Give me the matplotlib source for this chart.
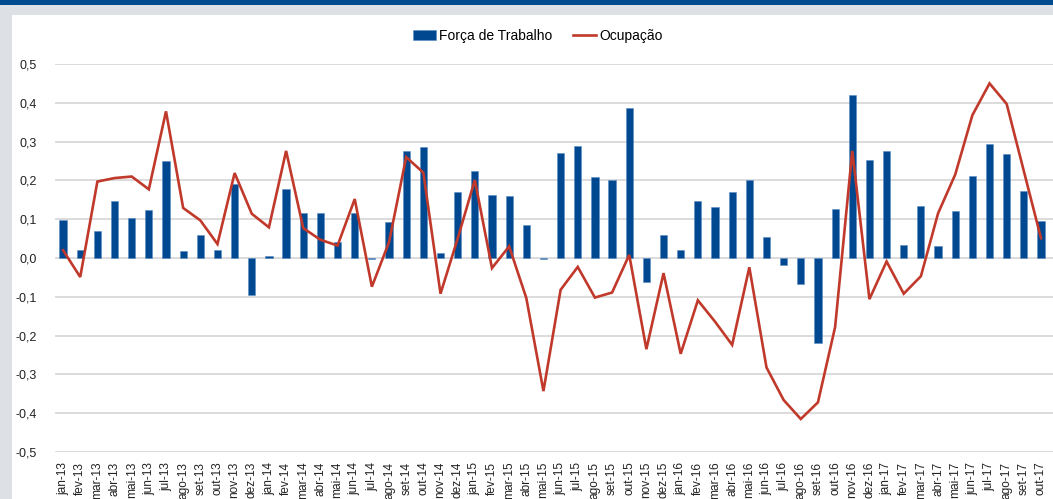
import matplotlib
matplotlib.use("Agg")
import matplotlib.pyplot as plt
from matplotlib.patches import Rectangle
import numpy as np

plt.rcParams['font.family'] = ['Liberation Sans', 'DejaVu Sans']

months = ["jan", "fev", "mar", "abr", "mai", "jun", "jul", "ago", "set", "out", "nov", "dez"]
labels = [f"{m}-{y}" for y in ["13", "14", "15", "16"] for m in months] + \
         [f"{m}-17" for m in months[:10]]

forca_trabalho = [
    0.097, 0.021, 0.069, 0.147, 0.102, 0.125, 0.250, 0.017, 0.060, 0.020, 0.191, -0.096,
    0.006, 0.179, 0.117, 0.117, 0.042, 0.115, -0.002, 0.092, 0.276, 0.285, 0.014, 0.169,
    0.225, 0.162, 0.161, 0.084, -0.002, 0.270, 0.288, 0.209, 0.200, 0.386, -0.062, 0.060,
    0.021, 0.146, 0.131, 0.171, 0.200, 0.055, -0.019, -0.067, -0.218, 0.127, 0.419, 0.252,
    0.276, 0.033, 0.135, 0.030, 0.122, 0.212, 0.293, 0.268, 0.172, 0.095,
]
ocupacao = [
    0.020, -0.049, 0.197, 0.206, 0.210, 0.177, 0.378, 0.129, 0.097, 0.036, 0.219, 0.114,
    0.079, 0.276, 0.077, 0.047, 0.032, 0.152, -0.074, 0.041, 0.260, 0.220, -0.092, 0.050,
    0.201, -0.026, 0.030, -0.103, -0.343, -0.082, -0.023, -0.102, -0.089, 0.008, -0.235, -0.039,
    -0.247, -0.109, -0.164, -0.224, -0.024, -0.282, -0.366, -0.415, -0.372, -0.178, 0.276, -0.106,
    -0.009, -0.092, -0.047, 0.115, 0.215, 0.368, 0.450, 0.397, 0.224, 0.051,
]
yticks = [-0.5, -0.4, -0.3, -0.2, -0.1, 0.0, 0.1, 0.2, 0.3, 0.4, 0.5]

W, H = 1053, 499
fig = plt.figure(figsize=(W / 100, H / 100), dpi=100)
fig.patch.set_facecolor("white")

# frame decorations
fig.add_artist(Rectangle((0, 0), 1, 1, transform=fig.transFigure, facecolor="#dde1e5", edgecolor="none", zorder=-10))
fig.add_artist(Rectangle((12 / W, 0), 1 - 12 / W, (H - 15) / H, transform=fig.transFigure,
                         facecolor="white", edgecolor="none", zorder=-9))
fig.add_artist(Rectangle((0, (H - 5) / H), 1, 5 / H, transform=fig.transFigure,
                         facecolor="#004a8f", edgecolor="none", zorder=-8))

ax = fig.add_axes([55 / W, (H - 452) / H, 1 - 55 / W, (452 - 64) / H])
ax.set_facecolor("none")

x = np.arange(len(labels))
bar_color = "#004990"
line_color = "#c0392b"
bars = ax.bar(x, forca_trabalho, width=0.42, color=bar_color, edgecolor="#5b8cc4", linewidth=0.4,
              label="Força de Trabalho", zorder=3)
line, = ax.plot(x, ocupacao, color=line_color, linewidth=1.9, label="Ocupação", zorder=4,
                solid_joinstyle="miter")

ax.set_xlim(-0.47, 57.7)
ax.set_ylim(-0.5, 0.5)
ax.set_yticks(yticks)
ax.set_yticklabels([f"{v:.1f}".replace(".", ",") for v in yticks], fontsize=9, color="#222222")
ax.set_xticks(x)
ax.set_xticklabels(labels, rotation=90, fontsize=8.6, color="#222222", va="top", ha="center")
ax.tick_params(axis="both", length=0)
ax.tick_params(axis="y", pad=13)
ax.tick_params(axis="x", pad=7)
for s in ax.spines.values():
    s.set_visible(False)
ax.yaxis.grid(True, color="#d9d9d9", linewidth=1.3, zorder=0)
ax.set_axisbelow(True)

leg = fig.legend(handles=[bars, line], labels=["Força de Trabalho", "Ocupação"],
                 loc="center", bbox_to_anchor=(538 / W, (H - 36) / H), ncol=2, frameon=False,
                 fontsize=10, handlelength=1.65, handletextpad=0.25, columnspacing=1.5)

fig.savefig("out.png", dpi=100)
